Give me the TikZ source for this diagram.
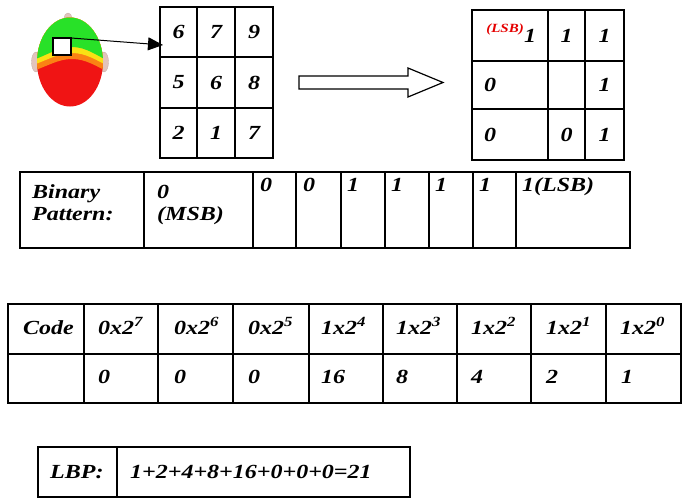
\documentclass[tikz,border=0pt]{standalone}
\usepackage{fontspec}
\newfontfamily\tabfont[FakeStretch=1.2]{Liberation Serif}
\usetikzlibrary{arrows.meta}

% one cell of a table: \mkcell{x1}{y1}{x2}{y2}{name}
\newcommand\mkcell[5]{%
  \node[cell, minimum width={#3-#1}, minimum height={#4-#2}] (#5) at ({(#1+#3)/2},{(#2+#4)/2}) {};}

\begin{document}
\begin{tikzpicture}[x=1pt, y=-1pt,
  cell/.style={draw, line width=1.3pt, inner sep=0pt, outer sep=0pt},
  txt/.style={font=\tabfont\bfseries\itshape\fontsize{20}{22}\selectfont, inner sep=0pt},
  smalltxt/.style={font=\tabfont\bfseries\itshape\fontsize{12.5}{13}\selectfont, inner sep=0pt, text=red!90!black},
  skin/.style={fill=skincol, draw=skincol!85!black, line width=0.3pt}]

\definecolor{skincol}{RGB}{226,196,188}
\definecolor{hgreen}{RGB}{40,225,40}
\definecolor{hyellow}{RGB}{250,225,20}
\definecolor{horange}{RGB}{250,130,20}
\definecolor{hred}{RGB}{240,20,20}

\useasboundingbox (0,0) rectangle (689,498);

% ---- head map ----
\path[skin] (36,62) ellipse [x radius=4.5, y radius=10];
\path[skin] (104,62) ellipse [x radius=4.5, y radius=10];
\path[skin] (68,18) ellipse [x radius=4, y radius=5];
\begin{scope}
  \clip (70,62) ellipse [x radius=33, y radius=44.5];
  \fill[hred] (30,10) rectangle (112,110);
  \fill[horange] (30,10) -- (30,72) .. controls (48,66) and (58,59) .. (72,59)
        .. controls (86,59) and (96,66) .. (112,74) -- (112,10) -- cycle;
  \fill[hyellow] (30,10) -- (30,66) .. controls (48,60) and (58,53) .. (72,53)
        .. controls (86,53) and (96,60) .. (112,68) -- (112,10) -- cycle;
  \fill[hgreen] (30,10) -- (30,61) .. controls (48,55) and (58,47) .. (72,47)
        .. controls (86,47) and (96,55) .. (112,63) -- (112,10) -- cycle;
\end{scope}
\node[cell, fill=white, minimum width=18, minimum height=17] (sq) at (62,46.5) {};

% ---- input 3x3 neighbourhood ----
\mkcell{160}{7}{197}{57}{g11}   \mkcell{197}{7}{235}{57}{g12}   \mkcell{235}{7}{273}{57}{g13}
\mkcell{160}{57}{197}{108}{g21} \mkcell{197}{57}{235}{108}{g22} \mkcell{235}{57}{273}{108}{g23}
\mkcell{160}{108}{197}{158}{g31}\mkcell{197}{108}{235}{158}{g32}\mkcell{235}{108}{273}{158}{g33}
\node[txt] (n11) at (g11) {6}; \node[txt] (n12) at (g12) {7}; \node[txt] (n13) at (g13) {9};
\node[txt] (n21) at (g21) {5}; \node[txt] (n22) at (g22) {6}; \node[txt] (n23) at (g23) {8};
\node[txt] (n31) at (g31) {2}; \node[txt] (n32) at (g32) {1}; \node[txt] (n33) at (g33) {7};

\coordinate (tip) at (163,45);
\draw[line width=1pt, -{Triangle[length=15pt, width=13pt]}] (sq.north east) -- (tip);

% ---- hollow arrow ----
\draw[line width=1.2pt, fill=white] (299,76) -- (408,76) -- (408,68) -- (443,82.5)
  -- (408,97) -- (408,89) -- (299,89) -- cycle;

% ---- thresholded neighbourhood ----
\mkcell{472}{10}{548}{61}{b11}   \mkcell{548}{10}{585}{61}{b12}   \mkcell{585}{10}{624}{61}{b13}
\mkcell{472}{61}{548}{109}{b21}  \mkcell{548}{61}{585}{109}{b22}  \mkcell{585}{61}{624}{109}{b23}
\mkcell{472}{109}{548}{160}{b31} \mkcell{548}{109}{585}{160}{b32} \mkcell{585}{109}{624}{160}{b33}
\node[txt] (m11) at (530,35.5) {1};
\node[smalltxt, anchor=east] (lsb) at (524,29) {(LSB)};
\node[txt] (m12) at (b12) {1}; \node[txt] (m13) at (b13) {1};
\node[txt] (m21) at (490,85) {0}; \node[txt] (m23) at (b23) {1};
\node[txt] (m31) at (490,134.5) {0}; \node[txt] (m32) at (b32) {0}; \node[txt] (m33) at (b33) {1};

% ---- binary pattern row ----
\mkcell{20}{172}{144}{248}{p0} \mkcell{144}{172}{253}{248}{p1} \mkcell{253}{172}{296}{248}{p2}
\mkcell{296}{172}{341}{248}{p3} \mkcell{341}{172}{385}{248}{p4} \mkcell{385}{172}{429}{248}{p5}
\mkcell{429}{172}{473}{248}{p6} \mkcell{473}{172}{516}{248}{p7} \mkcell{516}{172}{630}{248}{p8}
\node[txt, anchor=base west] (pa) at (32,198) {Binary};
\node[txt, anchor=base west] (pb) at (32,220) {Pattern:};
\node[txt, anchor=base west] (pc) at (157,198) {0};
\node[txt, anchor=base west] (pd) at (157,220) {(MSB)};
\node[txt, anchor=base west] (q2) at (260,191) {0};
\node[txt, anchor=base west] (q3) at (303,191) {0};
\node[txt, anchor=base west] (q4) at (347,191) {1};
\node[txt, anchor=base west] (q5) at (391,191) {1};
\node[txt, anchor=base west] (q6) at (435,191) {1};
\node[txt, anchor=base west] (q7) at (479,191) {1};
\node[txt, anchor=base west] (q8) at (522,191) {1(LSB)};

% ---- weights ----
\mkcell{8}{304}{84}{354}{c10}    \mkcell{84}{304}{158}{354}{c11}  \mkcell{158}{304}{233}{354}{c12}
\mkcell{233}{304}{309}{354}{c13} \mkcell{309}{304}{383}{354}{c14} \mkcell{383}{304}{457}{354}{c15}
\mkcell{457}{304}{531}{354}{c16} \mkcell{531}{304}{606}{354}{c17} \mkcell{606}{304}{681}{354}{c18}
\mkcell{8}{354}{84}{403}{c20}    \mkcell{84}{354}{158}{403}{c21}  \mkcell{158}{354}{233}{403}{c22}
\mkcell{233}{354}{309}{403}{c23} \mkcell{309}{354}{383}{403}{c24} \mkcell{383}{354}{457}{403}{c25}
\mkcell{457}{354}{531}{403}{c26} \mkcell{531}{354}{606}{403}{c27} \mkcell{606}{354}{681}{403}{c28}
\node[txt, anchor=base west] (w0) at (23,334) {Code};
\node[txt, anchor=base west] (w1) at (98,334) {0x2\textsuperscript{7}};
\node[txt, anchor=base west] (w2) at (174,334) {0x2\textsuperscript{6}};
\node[txt, anchor=base west] (w3) at (248,334) {0x2\textsuperscript{5}};
\node[txt, anchor=base west] (w4) at (321,334) {1x2\textsuperscript{4}};
\node[txt, anchor=base west] (w5) at (396,334) {1x2\textsuperscript{3}};
\node[txt, anchor=base west] (w6) at (471,334) {1x2\textsuperscript{2}};
\node[txt, anchor=base west] (w7) at (546,334) {1x2\textsuperscript{1}};
\node[txt, anchor=base west] (w8) at (620,334) {1x2\textsuperscript{0}};
\node[txt, anchor=base west] (v1) at (98,383) {0};
\node[txt, anchor=base west] (v2) at (174,383) {0};
\node[txt, anchor=base west] (v3) at (248,383) {0};
\node[txt, anchor=base west] (v4) at (321,383) {16};
\node[txt, anchor=base west] (v5) at (396,383) {8};
\node[txt, anchor=base west] (v6) at (471,383) {4};
\node[txt, anchor=base west] (v7) at (546,383) {2};
\node[txt, anchor=base west] (v8) at (621,383) {1};

% ---- result ----
\mkcell{38}{447}{117}{497}{r0} \mkcell{117}{447}{410}{497}{r1}
\node[txt, anchor=base west] (lbp) at (50,478) {LBP:};
\node[txt, anchor=base west] (sum) at (130,478) {1+2+4+8+16+0+0+0=21};
\end{tikzpicture}
\end{document}
